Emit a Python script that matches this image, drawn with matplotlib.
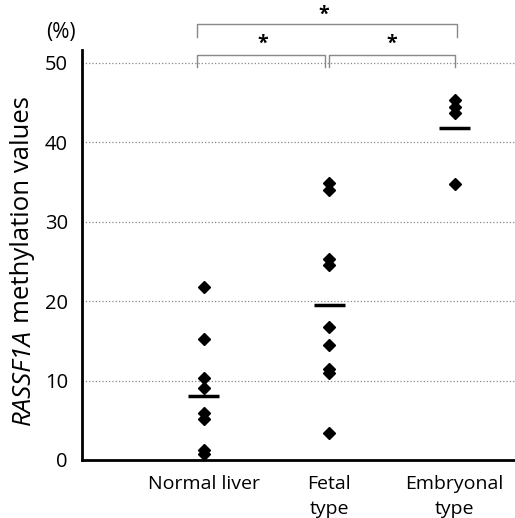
import matplotlib
matplotlib.use("Agg")
import matplotlib.pyplot as plt

plt.rcParams['font.family'] = ['Open Sans', 'DejaVu Sans']

groups = ["Normal liver", "Fetal\ntype", "Embryonal\ntype"]
normal_liver = [21.8, 15.2, 10.3, 9.1, 5.9, 5.2, 1.2, 0.7]
fetal_type = [34.9, 34.0, 25.3, 24.6, 16.8, 14.5, 11.5, 10.9, 3.4]
embryonal_type = [45.3, 44.5, 43.7, 34.8]
medians = [8.0, 19.5, 41.8]

values = [normal_liver, fetal_type, embryonal_type]

fig = plt.figure(figsize=(5.15, 5.18), dpi=100)
ax = fig.add_axes([0.159, 0.112, 0.841, 0.791])

for i, vals in enumerate(values):
    ax.plot([i] * len(vals), vals, linestyle='none', marker='D', markersize=6,
            color='black', clip_on=False)
    ax.plot([i - 0.125, i + 0.125], [medians[i], medians[i]], color='black', lw=2.5,
            solid_capstyle='butt')

ax.set_xlim(-0.97, 2.48)
ax.set_ylim(0, 51.6)
ax.set_yticks([0, 10, 20, 30, 40, 50])
ax.set_xticks(range(len(groups)))
ax.set_xticklabels(groups, fontsize=14, linespacing=1.45)
ax.tick_params(axis='y', labelsize=14.5, length=0, pad=10)
ax.tick_params(axis='x', length=0, pad=11)
ax.grid(axis='y', linestyle=':', color='#888888', lw=0.9)
ax.set_axisbelow(True)

for s in ['top', 'right']:
    ax.spines[s].set_visible(False)
for s in ['left', 'bottom']:
    ax.spines[s].set_linewidth(2)

# y label: italic gene name followed by plain text
renderer = fig.canvas.get_renderer()
lab_x = 23 / 515
t1 = fig.text(lab_x, 1 - 425 / 518, 'RASSF1A', style='italic', fontsize=18.5,
              rotation=90, ha='center', va='bottom')
h1 = t1.get_window_extent(renderer).height / fig.bbox.height
fig.text(lab_x, 1 - 425 / 518 + h1 + 0.012, 'methylation values', fontsize=18.5,
         rotation=90, ha='center', va='bottom')

ax.text(-1.14, 53.8, '(%)', fontsize=15, ha='center', va='center', clip_on=False)

# significance brackets
def bracket(x0, x1, y, leg, star_x, star_y):
    ax.plot([x0, x0, x1, x1], [y - leg, y, y, y - leg], color='#888888', lw=1,
            clip_on=False)
    ax.text(star_x, star_y, '*', fontsize=14, fontweight='bold', ha='center',
            va='center', clip_on=False)

bracket(-0.056, 0.97, 51.0, 1.5, 0.47, 52.4)
bracket(1.0, 2.0, 51.0, 1.5, 1.5, 52.4)
bracket(-0.056, 2.016, 54.9, 1.6, 0.96, 56.0)

fig.savefig("out.png", dpi=100)
